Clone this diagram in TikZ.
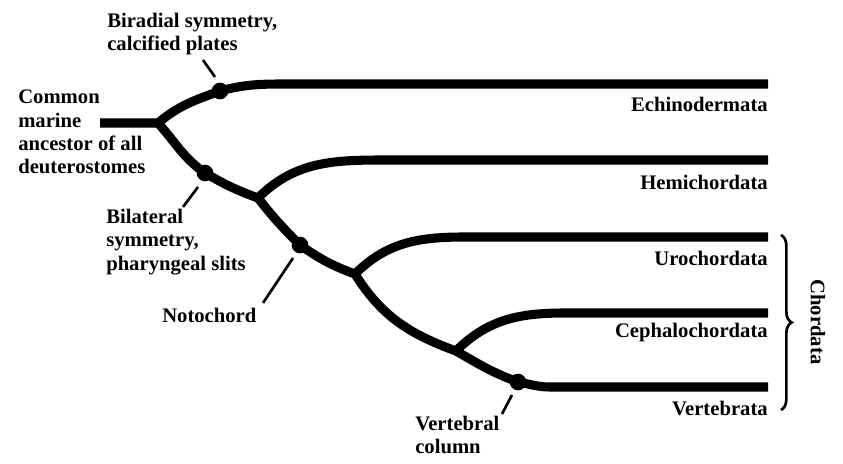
\documentclass[tikz,border=0pt]{standalone}
\usepackage{fontspec}
\setmainfont{Liberation Serif}
\usetikzlibrary{decorations.pathreplacing}

\begin{document}
\begin{tikzpicture}[
  x=0.75pt,y=0.75pt,
  branch/.style={line width=6.8pt,draw=black,line cap=butt,line join=round},
  dot/.style={circle,fill=black,minimum size=12.5pt,inner sep=0pt},
  taxon/.style={font=\fontsize{15.5}{17.5}\selectfont\bfseries,inner sep=0pt,anchor=east},
  trait/.style={font=\fontsize{15.5}{17.5}\selectfont\bfseries,inner sep=0pt,anchor=west,align=left},
  leader/.style={line width=2pt,draw=black},
  clade/.style={line width=2pt,draw=black,decorate,decoration={brace,amplitude=8pt}}
]
\useasboundingbox (0,0) rectangle (843,464);

% forks of the tree
\coordinate (root) at (100,341);
\coordinate (f1) at (158,341);
\coordinate (f2) at (258,266);
\coordinate (f3) at (355,190);
\coordinate (f4) at (456,113);

% tips
\coordinate (s1) at (290,380); \coordinate (t1) at (768,380);
\coordinate (s2) at (390,304); \coordinate (t2) at (768,304);
\coordinate (s3) at (465,227); \coordinate (t3) at (768,227);
\coordinate (s4) at (565,151); \coordinate (t4) at (768,151);
\coordinate (s5) at (550,77);  \coordinate (t5) at (768,77);

% characters
\node[dot] (d1) at (220,373) {};
\node[dot] (d2) at (205,291) {};
\node[dot] (d3) at (300,219) {};
\node[dot] (d4) at (518,82) {};

\draw[branch] (root) -- (f1) to[out=40,in=200] (d1.center) to[out=15,in=180] (s1) -- (t1);
\draw[branch] (f1) to[out=-48,in=145] (d2.center) to[out=-30,in=160] (f2);
\draw[branch] (f2) to[out=45,in=180] (s2) -- (t2);
\draw[branch] (f2) to[out=-52,in=135] (d3.center) to[out=-35,in=160] (f3);
\draw[branch] (f3) to[out=45,in=180] (s3) -- (t3);
\draw[branch] (f3) to[out=-58,in=160] (f4);
\draw[branch] (f4) to[out=45,in=180] (s4) -- (t4);
\draw[branch] (f4) to[out=-30,in=160] (d4.center) to[out=-10,in=180] (s5) -- (t5);

\node[taxon] (echi) at (768,360) {Echinodermata};
\node[taxon] (hemi) at (768,282) {Hemichordata};
\node[taxon] (uro)  at (768,206) {Urochordata};
\node[taxon] (ceph) at (768,131) {Cephalochordata};
\node[taxon] (vert) at (768,56)  {Vertebrata};

\node[trait] (anc)  at (18,332)  {Common\\marine\\ancestor of all\\deuterostomes};
\node[trait] (bir)  at (107,430) {Biradial symmetry,\\calcified plates};
\node[trait] (bil)  at (106,222) {Bilateral\\symmetry,\\pharyngeal slits};
\node[trait] (noto) at (162,149) {Notochord};
\node[trait] (col)  at (415,29)  {Vertebral\\column};

% pointers to the characters
\coordinate (l1a) at (203,404); \coordinate (l1b) at (215,387);
\coordinate (l2a) at (198,277); \coordinate (l2b) at (183,257);
\coordinate (l3a) at (293,206); \coordinate (l3b) at (263,161);
\coordinate (l4a) at (512,69);  \coordinate (l4b) at (502,50);
\draw[leader] (l1a) -- (l1b);
\draw[leader] (l2a) -- (l2b);
\draw[leader] (l3a) -- (l3b);
\draw[leader] (l4a) -- (l4b);

\coordinate (c1) at (781,229); \coordinate (c2) at (781,54);
\draw[clade] (c1) -- (c2);
\node[font=\fontsize{15.5}{17.5}\selectfont\bfseries,inner sep=0pt,rotate=-90] (chord) at (818,142) {Chordata};
\end{tikzpicture}
\end{document}
